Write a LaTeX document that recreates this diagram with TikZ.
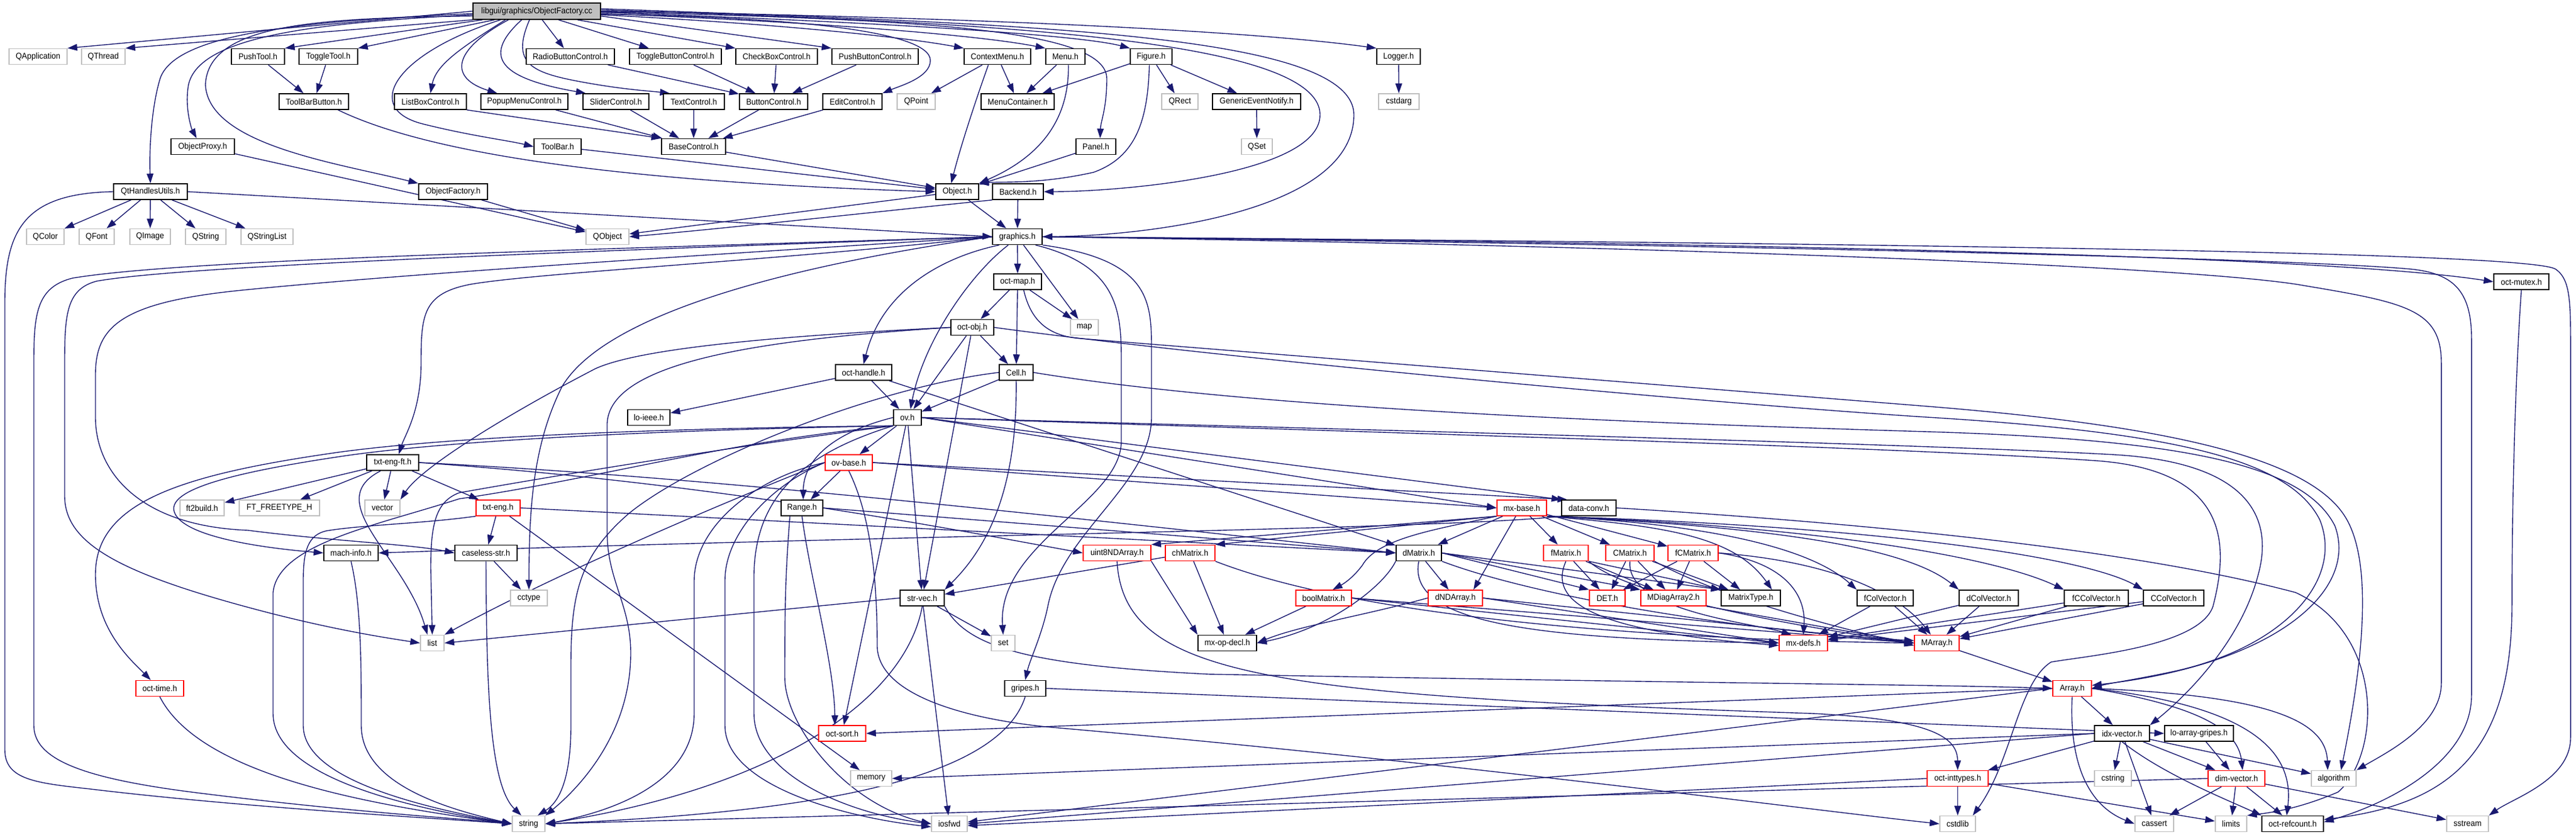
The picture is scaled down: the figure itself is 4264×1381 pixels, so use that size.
\documentclass[tikz,border=0pt]{standalone}
\usepackage{fontspec}
\newfontfamily\lblfont{Liberation Sans}[FakeStretch=0.93]
\usetikzlibrary{arrows.meta}
\pgfdeclarelayer{bg}
\pgfsetlayers{bg,main}
\definecolor{edgec}{HTML}{191970}
\definecolor{extc}{HTML}{BFBFBF}
\newcommand\mynode[6]{\node[#1, minimum width=#5pt] (#2) at (#3,#4) {#6};}
\begin{document}
\begin{tikzpicture}[x=1pt,y=-1pt,
  nb/.style={draw=black, line width=1.6pt, minimum height=26pt, inner sep=0pt, fill=white, font=\lblfont\fontsize{14}{16}\selectfont},
  nr/.style={nb, draw=red},
  ng/.style={nb, draw=extc},
  nt/.style={nb, fill=extc, minimum height=27pt},
  e/.style={draw=edgec, line width=1.4pt, -{Triangle[length=16pt,width=11pt]}}]
\useasboundingbox (0,0) rectangle (4264,1381);
% ---------------- nodes
\mynode{nt}{OF}{888.5}{18.5}{211}{libgui/graphics/ObjectFactory.cc}
% row 1
\mynode{ng}{qapp}{63}{93.5}{96}{QApplication}
\mynode{ng}{qthread}{171}{93.5}{72}{QThread}
\mynode{nb}{pushtool}{427}{93.5}{88}{PushTool.h}
\mynode{nb}{toggletool}{543.5}{93.5}{97}{ToggleTool.h}
\mynode{nb}{radiobc}{944}{93.5}{146}{RadioButtonControl.h}
\mynode{nb}{togglebc}{1118}{93.5}{152}{ToggleButtonControl.h}
\mynode{nb}{checkbc}{1285.5}{93.5}{135}{CheckBoxControl.h}
\mynode{nb}{pushbc}{1448.5}{93.5}{143}{PushButtonControl.h}
\mynode{nb}{ctxmenu}{1651}{93.5}{110}{ContextMenu.h}
\mynode{nb}{menu}{1763.5}{93.5}{65}{Menu.h}
\mynode{nb}{figure}{1905.5}{93.5}{69}{Figure.h}
\mynode{nb}{logger}{2315}{93.5}{72}{Logger.h}
% row 2
\mynode{nb}{toolbarbutton}{519.5}{168}{115}{ToolBarButton.h}
\mynode{nb}{listbox}{712.5}{168}{119}{ListBoxControl.h}
\mynode{nb}{popup}{868}{168}{144}{PopupMenuControl.h}
\mynode{nb}{slider}{1019.5}{168}{109}{SliderControl.h}
\mynode{nb}{textctl}{1148.5}{168}{101}{TextControl.h}
\mynode{nb}{buttonctl}{1280.5}{168}{113}{ButtonControl.h}
\mynode{nb}{editctl}{1411}{168}{98}{EditControl.h}
\mynode{ng}{qpoint}{1516.5}{168}{63}{QPoint}
\mynode{nb}{menucont}{1684.5}{168}{121}{MenuContainer.h}
\mynode{ng}{qrect}{1953}{168}{60}{QRect}
\mynode{nb}{genev}{2080}{168}{146}{GenericEventNotify.h}
\mynode{ng}{cstdarg}{2315.5}{168}{67}{cstdarg}
% row 3
\mynode{nb}{objproxy}{335.5}{242.5}{105}{ObjectProxy.h}
\mynode{nb}{toolbar}{923}{242.5}{78}{ToolBar.h}
\mynode{nb}{basectl}{1148}{242.5}{106}{BaseControl.h}
\mynode{nb}{panel}{1814}{242.5}{66}{Panel.h}
\mynode{ng}{qset}{2080.5}{242.5}{51}{QSet}
% row 4
\mynode{nb}{qthu}{249}{317}{122}{QtHandlesUtils.h}
\mynode{nb}{objfacth}{750}{317}{114}{ObjectFactory.h}
\mynode{nb}{objecth}{1584.5}{317}{71}{Object.h}
\mynode{nb}{backend}{1685}{317}{84}{Backend.h}
% row 5
\mynode{ng}{qcolor}{75}{391.5}{62}{QColor}
\mynode{ng}{qfont}{160}{391.5}{58}{QFont}
\mynode{ng}{qimage}{248.5}{391.5}{67}{QImage}
\mynode{ng}{qstring}{340.5}{391.5}{67}{QString}
\mynode{ng}{qstringlist}{442}{391.5}{86}{QStringList}
\mynode{ng}{qobject}{1005.5}{391.5}{71}{QObject}
\mynode{nb}{graphics}{1684}{391.5}{82}{graphics.h}
% row 6-10
\mynode{nb}{octmap}{1684.5}{466}{79}{oct-map.h}
\mynode{nb}{octmutex}{4173.5}{466}{91}{oct-mutex.h}
\mynode{nb}{octobj}{1609.5}{541.5}{71}{oct-obj.h}
\mynode{ng}{map}{1795}{541.5}{46}{map}
\mynode{nb}{octhandle}{1429.5}{616}{93}{oct-handle.h}
\mynode{nb}{cell}{1682}{616}{56}{Cell.h}
\mynode{nb}{loieee}{1074}{690.5}{70}{lo-ieee.h}
\mynode{nb}{ov}{1502}{690.5}{46}{ov.h}
\mynode{nb}{txtengft}{650}{765}{86}{txt-eng-ft.h}
\mynode{nr}{ovbase}{1405}{765}{78}{ov-base.h}
% row 11
\mynode{ng}{ft2build}{334.5}{840}{73}{ft2build.h}
\mynode{ng}{ftfreetype}{462.5}{840}{133}{FT\_FREETYPE\_H}
\mynode{ng}{vector}{633}{840}{58}{vector}
\mynode{nr}{txteng}{824.5}{840}{73}{txt-eng.h}
\mynode{nb}{range}{1327.5}{840}{69}{Range.h}
\mynode{nr}{mxbase}{2519}{840}{82}{mx-base.h}
\mynode{nb}{dataconv}{2630}{840}{90}{data-conv.h}
% row 12
\mynode{nb}{machinfo}{581}{914.5}{90}{mach-info.h}
\mynode{nb}{caseless}{804.5}{914.5}{103}{caseless-str.h}
\mynode{nr}{uint8}{1849}{914.5}{112}{uint8NDArray.h}
\mynode{nr}{chmatrix}{1970}{914.5}{82}{chMatrix.h}
\mynode{nb}{dmatrix}{2348.5}{914.5}{75}{dMatrix.h}
\mynode{nr}{fmatrix}{2592}{914.5}{74}{fMatrix.h}
\mynode{nr}{cmatrix}{2698}{914.5}{80}{CMatrix.h}
\mynode{nr}{fcmatrix}{2802.5}{914.5}{83}{fCMatrix.h}
% row 13
\mynode{ng}{cctype}{875.5}{989}{61}{cctype}
\mynode{nb}{strvec}{1526.5}{989}{73}{str-vec.h}
\mynode{nr}{boolmatrix}{2191}{989}{92}{boolMatrix.h}
\mynode{nr}{dndarray}{2409}{989}{90}{dNDArray.h}
\mynode{nr}{det}{2660.5}{989}{59}{DET.h}
\mynode{nr}{mdiag}{2770}{989}{108}{MDiagArray2.h}
\mynode{nb}{mattype}{2898}{989}{98}{MatrixType.h}
\mynode{nb}{fcolvec}{3120.5}{989}{93}{fColVector.h}
\mynode{nb}{dcolvec}{3292}{989}{98}{dColVector.h}
\mynode{nb}{fccolvec}{3470}{989}{106}{fCColVector.h}
\mynode{nb}{ccolvec}{3598}{989}{100}{CColVector.h}
% row 14
\mynode{ng}{list}{715.5}{1063.5}{39}{list}
\mynode{ng}{set}{1660.5}{1063.5}{39}{set}
\mynode{nb}{mxopdecl}{2031.5}{1063.5}{97}{mx-op-decl.h}
\mynode{nr}{mxdefs}{2985}{1063.5}{80}{mx-defs.h}
\mynode{nr}{marray}{3206}{1063.5}{74}{MArray.h}
% row 15-16
\mynode{nr}{octtime}{264.5}{1138.5}{79}{oct-time.h}
\mynode{nb}{gripes}{1697}{1138.5}{68}{gripes.h}
\mynode{nr}{array}{3430}{1138.5}{64}{Array.h}
\mynode{nr}{octsort}{1394}{1213}{78}{oct-sort.h}
\mynode{nb}{idxvec}{3512.5}{1213}{91}{idx-vector.h}
\mynode{nb}{loarraygripes}{3640}{1213}{114}{lo-array-gripes.h}
% row 17
\mynode{ng}{memory}{1442}{1287.5}{68}{memory}
\mynode{nr}{octinttypes}{3240.5}{1287.5}{101}{oct-inttypes.h}
\mynode{ng}{cstring}{3497.5}{1287.5}{61}{cstring}
\mynode{nr}{dimvec}{3702}{1287.5}{94}{dim-vector.h}
\mynode{ng}{algorithm}{3863}{1287.5}{74}{algorithm}
% row 18
\mynode{ng}{string}{875}{1362.5}{54}{string}
\mynode{ng}{iosfwd}{1571.5}{1362.5}{59}{iosfwd}
\mynode{ng}{cstdlib}{3240.5}{1362.5}{59}{cstdlib}
\mynode{ng}{cassert}{3566}{1362.5}{64}{cassert}
\mynode{ng}{limits}{3693}{1362.5}{52}{limits}
\mynode{nb}{octrefcount}{3795}{1362.5}{102}{oct-refcount.h}
\mynode{ng}{sstream}{4084.5}{1362.5}{69}{sstream}
% ---------------- edges
\begin{pgfonlayer}{bg}
% from ObjectFactory.cc
\draw[e] (OF.west) -- (qapp.north east);
\draw[e] (OF.south west) -- (qthread.north east);
\draw[e] ([xshift=-90pt]OF.south) -- (pushtool.north east);
\draw[e] ([xshift=-70pt]OF.south) -- (toggletool.north east);
\draw[e] ([xshift=9pt]OF.south) -- (radiobc);
\draw[e] ([xshift=36pt]OF.south) -- (togglebc);
\draw[e] ([xshift=-39pt]OF.south east) -- (checkbc.north west);
\draw[e] ([yshift=-8pt]OF.east) -- (pushbc.north west);
\draw[e] ([yshift=-6pt]OF.east) .. controls (1300,40) and (1500,62) .. (ctxmenu.north west);
\draw[e] ([yshift=-4pt]OF.east) .. controls (1350,36) and (1620,58) .. (menu.north west);
\draw[e] ([yshift=-2pt]OF.east) .. controls (1400,34) and (1780,56) .. (figure.north west);
\draw[e] (OF.east) .. controls (1700,30) and (2100,55) .. (logger.north west);
\draw[e] ([xshift=-52pt]OF.south) .. controls (770,75) and (722,105) .. (listbox.north);
\draw[e] ([xshift=-47pt]OF.south) .. controls (745,85) and (745,130) .. ([xshift=-45pt]popup.north);
\draw[e] ([xshift=-25pt]OF.south) .. controls (795,95) and (830,130) .. ([xshift=-50pt]slider.north);
\draw[e] ([xshift=-12pt]OF.south) .. controls (845,105) and (880,120) .. (960,135) .. controls (1030,148) and (1070,150) .. ([xshift=-40pt]textctl.north);
\draw[e] ([xshift=-60pt]OF.south) .. controls (650,90) and (600,180) .. (700,205) .. controls (780,225) and (840,232) .. (toolbar.west);
\draw[e] ([yshift=-4pt]OF.west) .. controls (500,35) and (290,55) .. (265,130) .. controls (250,180) and (247,250) .. (qthu.north);
\draw[e] ([yshift=-6pt]OF.west) .. controls (520,38) and (330,60) .. (312,140) .. controls (305,180) and (318,215) .. ([xshift=-10pt]objproxy.north);
\draw[e] ([yshift=-8pt]OF.west) .. controls (520,30) and (345,40) .. (340,140) .. controls (345,240) and (560,270) .. (objfacth.north west);
\draw[e] ([yshift=-5pt]OF.east) .. controls (1300,28) and (1540,50) .. (1540,100) .. controls (1540,128) and (1490,142) .. (editctl.north east);
\draw[e] ([yshift=-1pt]OF.east) .. controls (1500,32) and (1832,45) .. (1832,130) .. controls (1832,180) and (1822,200) .. ([xshift=7pt]panel.north);
\draw[e] ([yshift=2pt]OF.east) .. controls (1600,36) and (2185,60) .. (2185,190) .. controls (2185,290) and (1850,317) .. (backend.east);
\draw[e] ([yshift=4pt]OF.east) .. controls (1700,40) and (2241,55) .. (2241,190) .. controls (2241,350) and (1900,390) .. (graphics.east);
% second level
\draw[e] (pushtool) -- (toolbarbutton);
\draw[e] (toggletool) -- (toolbarbutton);
\draw[e] (radiobc) -- (buttonctl);
\draw[e] (togglebc) -- (buttonctl);
\draw[e] (checkbc) -- (buttonctl);
\draw[e] (pushbc) -- (buttonctl);
\draw[e] (listbox.south east) -- (basectl.north west);
\draw[e] (popup) -- (basectl);
\draw[e] (slider) -- (basectl);
\draw[e] (textctl) -- (basectl);
\draw[e] (buttonctl) -- (basectl);
\draw[e] (editctl) -- (basectl);
\draw[e] (basectl) -- (objecth);
\draw[e] (toolbar) -- (objecth);
\draw[e] ([xshift=40pt]toolbarbutton.south) .. controls (700,250) and (1000,300) .. (objecth.west);
\draw[e] (ctxmenu) -- (qpoint);
\draw[e] (ctxmenu) -- (menucont);
\draw[e] (menu) -- (menucont);
\draw[e] (figure) -- (menucont);
\draw[e] (figure) -- (qrect);
\draw[e] (figure) -- (genev);
\draw[e] (genev) -- (qset);
\draw[e] (logger) -- (cstdarg);
\draw[e] ([xshift=-15pt]ctxmenu.south) .. controls (1610,180) and (1588,250) .. ([xshift=-10pt]objecth.north);
\draw[e] ([xshift=5pt]menu.south) .. controls (1770,200) and (1720,260) .. (objecth.north east);
\draw[e] ([xshift=-3pt]figure.south) .. controls (1900,200) and (1880,260) .. (1810,285) .. controls (1720,305) and (1660,300) .. (objecth.north east);
\draw[e] (panel) -- (objecth);
\draw[e] (objproxy) -- (qobject);
\draw[e] (objfacth) -- (qobject);
\draw[e] (objecth) -- (qobject);
\draw[e] (backend.south west) .. controls (1500,345) and (1200,378) .. (qobject.east);
\draw[e] (objecth) -- (graphics);
\draw[e] (backend) -- (graphics);
\draw[e] (qthu) -- (qcolor);
\draw[e] (qthu) -- (qfont);
\draw[e] (qthu) -- (qimage);
\draw[e] (qthu) -- (qstring);
\draw[e] (qthu) -- (qstringlist);
\draw[e] (qthu.east) -- (graphics.west);
\draw[e] (qthu.west) .. controls (40,320) and (8,380) .. (8,500) -- (8,1240) .. controls (8,1290) and (60,1295) .. (150,1305) .. controls (400,1335) and (700,1352) .. (string.west);
% graphics.h
\draw[e] (graphics) -- (octmap);
\draw[e] (graphics) -- (map);
\draw[e] ([xshift=-30pt]graphics.south) .. controls (1560,425) and (1460,480) .. (octhandle.north);
\draw[e] ([xshift=-15pt]graphics.south) .. controls (1610,450) and (1530,560) .. ([xshift=5pt]ov.north);
\draw[e] ([xshift=30pt]graphics.south) .. controls (1855,440) and (1856,520) .. (1856,600) -- (1856,730) .. controls (1856,830) and (1650,900) .. (set.north);
\draw[e] (graphics.south east) .. controls (1906,430) and (1906,500) .. (1906,580) -- (1906,690) .. controls (1906,800) and (1760,880) .. (1735,1000) .. controls (1725,1050) and (1705,1090) .. (gripes.north);
\draw[e] (graphics.west) .. controls (1300,430) and (900,450) .. (780,470) .. controls (700,485) and (697,520) .. (697,600) .. controls (697,680) and (670,720) .. ([xshift=10pt]txtengft.north);
\draw[e] (graphics.west) .. controls (1200,420) and (700,450) .. (400,480) .. controls (200,500) and (158,540) .. (158,620) -- (158,690) .. controls (158,780) and (230,870) .. (410,877) .. controls (550,895) and (680,900) .. (caseless.west);
\draw[e] (graphics.west) .. controls (900,415) and (300,430) .. (120,460) .. controls (60,475) and (56,520) .. (56,600) -- (56,1200) .. controls (56,1260) and (150,1290) .. (341,1313) .. controls (600,1345) and (780,1355) .. (string.west);
\draw[e] (graphics.west) .. controls (900,418) and (300,440) .. (160,465) .. controls (110,478) and (107,520) .. (107,600) -- (107,820) .. controls (107,900) and (200,950) .. (443,1013) .. controls (560,1043) and (640,1055) .. (list.west);
\draw[e] (graphics.west) .. controls (1300,440) and (1000,520) .. (930,640) .. controls (880,740) and (876,850) .. (cctype.north);
\draw[e] (graphics.east) .. controls (2500,398) and (3800,415) .. (octmutex.west);
\draw[e] (graphics.east) .. controls (3000,402) and (4180,415) .. (4230,445) .. controls (4252,460) and (4255,490) .. (4255,560) -- (4255,1220) .. controls (4255,1290) and (4160,1320) .. (sstream.north east);
\draw[e] (graphics.east) .. controls (2800,408) and (3600,440) .. (3800,470) .. controls (3980,500) and (4041,510) .. (4041,600) -- (4041,1130) .. controls (4041,1200) and (3950,1245) .. (algorithm.north east);
\draw[e] (graphics.east) .. controls (2900,405) and (3800,428) .. (3990,445) .. controls (4060,452) and (4091,480) .. (4091,560) -- (4091,1150) .. controls (4091,1260) and (3950,1330) .. ([yshift=3pt]octrefcount.east);
\draw[e] (octmutex.south) .. controls (4165,600) and (4158,800) .. (4158,1000) .. controls (4158,1250) and (4050,1330) .. ([yshift=7pt]octrefcount.east);
% oct-map, oct-obj, Cell, oct-handle
\draw[e] (octmap) -- (octobj);
\draw[e] (octmap) -- (cell);
\draw[e] (octmap) -- (map);
\draw[e] ([xshift=10pt]octmap.south) .. controls (1705,525) and (1730,556) .. (1790,560) -- (3190,672) .. controls (3600,705) and (3830,760) .. (3885,860) .. controls (3935,950) and (3900,1150) .. ([xshift=12pt]algorithm.north);
\draw[e] (octobj) -- (ov);
\draw[e] (octobj) -- (cell);
\draw[e] (octobj) -- (strvec);
\draw[e] (octobj.west) .. controls (1300,555) and (1060,575) .. (985,610) .. controls (850,680) and (700,770) .. (vector.north east);
\draw[e] (octobj.west) .. controls (1250,562) and (1010,600) .. (1005,700) -- (1005,880) .. controls (1005,960) and (1044,1000) .. (1044,1080) .. controls (1044,1220) and (950,1310) .. (string.north east);
\draw[e] (octobj.east) .. controls (2000,590) and (2800,665) .. (3190,690) .. controls (3600,715) and (3790,760) .. (3840,860) .. controls (3880,960) and (3780,1070) .. (3600,1110) .. controls (3530,1125) and (3490,1130) .. (array.east);
\draw[e] (cell.east) .. controls (2100,680) and (2800,702) .. (3190,714) .. controls (3620,727) and (3815,770) .. (3865,870) .. controls (3905,980) and (3760,1100) .. ([yshift=5pt]array.east);
\draw[e] (cell) -- (ov);
\draw[e] (cell.south) .. controls (1684,800) and (1640,900) .. (strvec.north east);
\draw[e] (cell.west) .. controls (1450,640) and (1150,760) .. (1040,850) .. controls (960,920) and (945,980) .. (945,1100) -- (945,1200) .. controls (945,1300) and (920,1330) .. ([xshift=15pt]string.north);
\draw[e] (octhandle) -- (loieee);
\draw[e] (octhandle) -- (ov);
\draw[e] (octhandle) -- (dmatrix);
% ov.h, ov-base.h
\draw[e] (ov) -- (ovbase);
\draw[e] (ov.west) .. controls (1380,715) and (1330,760) .. ([xshift=2pt]range.north);
\draw[e] (ovbase) -- (range);
\draw[e] (ov) -- (strvec);
\draw[e] (ov) -- (octsort);
\draw[e] (ov.east) -- (mxbase.west);
\draw[e] (ovbase.east) -- (mxbase.west);
\draw[e] (ov.east) -- (dataconv.north west);
\draw[e] (ovbase.east) -- ([xshift=10pt]dataconv.north west);
\draw[e] (ov.south west) .. controls (1100,708) and (750,722) .. (560,748) .. controls (300,785) and (158,830) .. (158,950) .. controls (158,1040) and (215,1090) .. ([xshift=-15pt]octtime.north);
\draw[e] (ov.south west) .. controls (1100,711) and (750,728) .. (570,754) .. controls (380,782) and (280,810) .. (288,845) .. controls (298,885) and (420,905) .. (machinfo.west);
\draw[e] (ov.south west) .. controls (1200,730) and (1000,790) .. (760,825) .. controls (620,870) and (460,900) .. (452,980) -- (452,1180) .. controls (452,1290) and (700,1340) .. (string.west);
\draw[e] (ov.south west) .. controls (1200,740) and (900,790) .. (760,815) .. controls (720,830) and (713,870) .. (713,940) -- (list.north);
\draw[e] (ov.south west) .. controls (1330,750) and (1250,820) .. (1248,950) -- (1248,1180) .. controls (1248,1280) and (1400,1345) .. (iosfwd.west);
\draw[e] (ovbase.west) .. controls (1280,800) and (1200,880) .. (1200,960) -- (1200,1200) .. controls (1200,1300) and (1400,1352) .. ([yshift=-5pt]iosfwd.west);
\draw[e] (ovbase.west) .. controls (1250,790) and (1150,870) .. (1149,960) -- (1149,1180) .. controls (1149,1300) and (1000,1345) .. (string.east);
\draw[e] (ovbase.west) .. controls (1150,850) and (900,960) .. (list.north east);
\draw[e] (ovbase.south) .. controls (1440,850) and (1452,950) .. (1452,1070) .. controls (1455,1150) and (1600,1190) .. (1742,1203) .. controls (2400,1260) and (3000,1340) .. (cstdlib.west);
\draw[e] (ov.east) .. controls (2300,712) and (3200,735) .. (3500,752) .. controls (3740,766) and (3760,870) .. (3738,950) .. controls (3710,1060) and (3620,1150) .. (idxvec.north east);
\draw[e] (ov.east) .. controls (2300,716) and (3150,740) .. (3470,762) .. controls (3690,778) and (3690,900) .. (3663,1003) .. controls (3640,1070) and (3450,1085) .. (3395,1095) .. controls (3340,1130) and (3330,1260) .. ([xshift=25pt]cstdlib.north);
% txt-eng-ft.h, txt-eng.h etc.
\draw[e] (txtengft) -- (ft2build);
\draw[e] (txtengft) -- (ftfreetype);
\draw[e] (txtengft) -- (vector);
\draw[e] (txtengft) -- (txteng);
\draw[e] ([xshift=-20pt]txtengft.south) .. controls (530,830) and (670,920) .. ([xshift=-8pt]list.north);
\draw[e] (txtengft.east) .. controls (1200,790) and (1800,860) .. (dmatrix.west);
\draw[e] (txtengft.east) .. controls (1200,800) and (1600,880) .. (uint8.west);
\draw[e] (txteng) -- (caseless);
\draw[e] (txteng) -- (memory);
\draw[e] (txteng.east) -- (dmatrix.west);
\draw[e] (txteng.south west) .. controls (700,866) and (600,868) .. (540,878) .. controls (510,885) and (502,910) .. (502,960) -- (502,1200) .. controls (502,1290) and (700,1335) .. (string.west);
\draw[e] (caseless) -- (cctype);
\draw[e] (caseless.south) .. controls (805,1150) and (812,1300) .. ([xshift=-12pt]string.north);
\draw[e] (machinfo.south) .. controls (598,1000) and (598,1100) .. (598,1200) .. controls (598,1300) and (750,1340) .. (string.west);
\draw[e] (octtime.south) .. controls (330,1280) and (600,1330) .. (string.west);
\draw[e] ([xshift=-20pt]range.south) .. controls (1300,950) and (1299,1000) .. (1299,1120) .. controls (1299,1200) and (1400,1330) .. (iosfwd.west);
\draw[e] (range.south) .. controls (1340,950) and (1381,1100) .. ([xshift=-12pt]octsort.north);
\draw[e] (range.east) -- (dmatrix.west);
\draw[e] (dataconv.south west) .. controls (2400,875) and (1500,885) .. (machinfo.east);
\draw[e] (dataconv.east) .. controls (3000,860) and (3500,900) .. (3800,980) .. controls (3950,1050) and (3940,1250) .. (3870,1310) .. controls (3800,1340) and (3750,1345) .. (limits.north east);
\draw[e] (strvec) -- (set);
\draw[e] (strvec) -- (iosfwd);
\draw[e] (strvec.west) -- (list.east);
\draw[e] (strvec.south) .. controls (1500,1150) and (1300,1300) .. (string.east);
\draw[e] (strvec.south east) .. controls (1600,1070) and (1700,1100) .. (2000,1115) .. controls (2800,1130) and (3200,1132) .. (array.west);
\draw[e] (gripes.east) -- (loarraygripes.west);
\draw[e] (gripes.south) .. controls (1650,1300) and (1300,1345) .. (string.east);
\draw[e] (chmatrix) -- (strvec);
\draw[e] (chmatrix) -- (mxopdecl);
\draw[e] (chmatrix.south east) .. controls (2300,1040) and (2900,1060) .. (marray.west);
\draw[e] (uint8.south east) -- (mxopdecl.north west);
\draw[e] (uint8.south) .. controls (1860,1120) and (2100,1150) .. (3000,1180) .. controls (3200,1190) and (3240,1220) .. (octinttypes.north);
% mx-base.h
\draw[e] (mxbase) -- (dmatrix);
\draw[e] (mxbase) -- (fmatrix);
\draw[e] (mxbase) -- (cmatrix);
\draw[e] (mxbase) -- (fcmatrix);
\draw[e] (mxbase.south west) -- (uint8.north east);
\draw[e] (mxbase.south west) -- (chmatrix.north east);
\draw[e] (mxbase.south west) .. controls (2380,875) and (2280,890) .. (2255,935) .. controls (2240,955) and (2225,965) .. ([xshift=15pt]boolmatrix.north);
\draw[e] ([xshift=-10pt]mxbase.south) -- ([xshift=30pt]dndarray.north);
\draw[e] (mxbase.south east) .. controls (2750,870) and (2870,885) .. ([xshift=35pt]mattype.north);
\draw[e] (mxbase.south east) .. controls (2800,865) and (2990,900) .. (fcolvec.north west);
\draw[e] (mxbase.south east) .. controls (2900,870) and (3150,900) .. (dcolvec.north west);
\draw[e] (mxbase.south east) .. controls (3000,870) and (3300,920) .. (fccolvec.north west);
\draw[e] (mxbase.south east) .. controls (3100,870) and (3450,920) .. (ccolvec.north west);
% matrices
\draw[e] (dmatrix) -- (dndarray);
\draw[e] (dmatrix.east) -- (det.north west);
\draw[e] (dmatrix.east) -- (mdiag.north west);
\draw[e] (dmatrix.east) -- (mattype.north west);
\draw[e] (dmatrix.south) .. controls (2330,1020) and (2500,1050) .. (2800,1060) .. controls (2880,1063) and (2920,1063) .. (mxdefs.west);
\draw[e] (dmatrix.south east) .. controls (2550,990) and (2900,1045) .. ([yshift=4pt]marray.west);
\draw[e] (dmatrix.south west) .. controls (2290,970) and (2200,1040) .. (mxopdecl.east);
\draw[e] (fmatrix) -- (det);
\draw[e] (fmatrix) -- (mdiag);
\draw[e] (fmatrix.south east) -- (mattype.north west);
\draw[e] (fmatrix.south) .. controls (2560,1000) and (2650,1045) .. ([yshift=-4pt]mxdefs.west);
\draw[e] (fmatrix.south east) .. controls (2700,990) and (3000,1040) .. (marray.west);
\draw[e] (cmatrix) -- (det);
\draw[e] (cmatrix) -- (mdiag);
\draw[e] (cmatrix) -- (mattype);
\draw[e] (cmatrix.south) .. controls (2690,1010) and (2900,1030) .. ([xshift=-20pt]mxdefs.north);
\draw[e] (cmatrix.south east) .. controls (2850,990) and (3050,1040) .. ([yshift=-4pt]marray.west);
\draw[e] (fcmatrix) -- (det);
\draw[e] (fcmatrix) -- (mdiag);
\draw[e] (fcmatrix) -- (mattype);
\draw[e] (fcmatrix.east) .. controls (2950,930) and (2990,980) .. (mxdefs.north);
\draw[e] (fcmatrix.east) .. controls (3050,930) and (3150,990) .. ([xshift=-10pt]marray.north);
\draw[e] (boolmatrix) -- (mxopdecl);
\draw[e] (boolmatrix.east) -- (mxdefs.west);
\draw[e] (boolmatrix.east) -- (marray.west);
\draw[e] (dndarray.west) .. controls (2250,1020) and (2150,1035) .. (mxopdecl.east);
\draw[e] (dndarray.east) -- (mxdefs.west);
\draw[e] (dndarray.east) -- (marray.west);
\draw[e] (mdiag.south east) -- (marray.west);
\draw[e] (fcolvec) -- (mxdefs);
\draw[e] (fcolvec) -- (marray);
\draw[e] (dcolvec) -- (mxdefs);
\draw[e] (dcolvec) -- (marray);
\draw[e] (fccolvec) -- (mxdefs);
\draw[e] (fccolvec) -- (marray);
\draw[e] (ccolvec) -- (mxdefs);
\draw[e] (ccolvec) -- (marray);
\draw[e] (marray) -- (array);
% Array.h and below
\draw[e] (array) -- (idxvec);
\draw[e] (array.east) .. controls (3650,1170) and (3705,1210) .. ([xshift=10pt]dimvec.north);
\draw[e] (array.east) .. controls (3700,1165) and (3800,1230) .. ([xshift=-10pt]octrefcount.north);
\draw[e] (array.east) .. controls (3750,1150) and (3850,1190) .. ([xshift=-10pt]algorithm.north);
\draw[e] (array.south) .. controls (3425,1250) and (3450,1330) .. (cassert.west);
\draw[e] (array.west) -- ([yshift=3pt]iosfwd.east);
\draw[e] (array.west) -- (octsort.east);
\draw[e] (idxvec) -- (octinttypes);
\draw[e] (idxvec) -- (cstring);
\draw[e] (idxvec) -- (cassert);
\draw[e] (idxvec) -- (dimvec);
\draw[e] (idxvec) -- (algorithm);
\draw[e] (idxvec.south) .. controls (3580,1280) and (3680,1320) .. (octrefcount.north west);
\draw[e] (idxvec.west) -- (memory.east);
\draw[e] (idxvec.west) -- (iosfwd.east);
\draw[e] (loarraygripes) -- (dimvec);
\draw[e] (dimvec) -- (cassert);
\draw[e] (dimvec) -- (limits);
\draw[e] (dimvec) -- (octrefcount);
\draw[e] (dimvec) -- (sstream);
\draw[e] (dimvec.west) -- (string.east);
\draw[e] (octinttypes) -- (cstdlib);
\draw[e] (octinttypes) -- (limits);
\draw[e] (octinttypes.west) -- ([yshift=-3pt]iosfwd.east);
\end{pgfonlayer}
\end{tikzpicture}
\end{document}
